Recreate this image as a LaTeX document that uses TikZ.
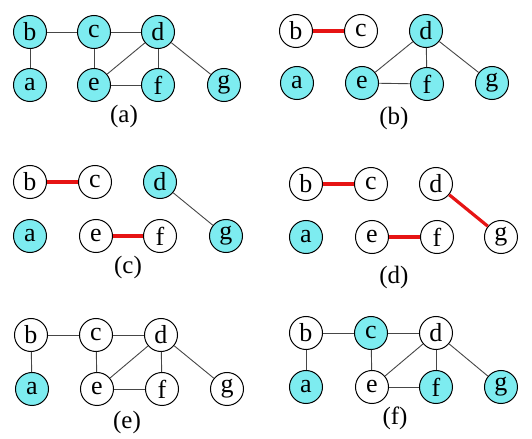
\documentclass[tikz,border=0pt]{standalone}
\usepackage{fontspec}
\setmainfont{Liberation Serif}
\usepackage{tikz}
\definecolor{vcyan}{RGB}{125,236,240}
\definecolor{edgegray}{RGB}{70,70,70}
\definecolor{matchred}{RGB}{230,20,20}

\begin{document}
\begin{tikzpicture}
          [x=0.5pt,y=-0.5pt,
           every node/.style={circle,draw=black,line width=0.5pt,minimum size=16.5pt,inner sep=0pt,font=\fontsize{13}{15}\selectfont},
           cov/.style={fill=vcyan},
           panellabel/.style={draw=none,fill=none,rectangle,font=\fontsize{12.5}{15}\selectfont},
           plain/.style={draw=edgegray,line width=0.45pt},
           match/.style={draw=matchred,line width=1.6pt}]
          \useasboundingbox (0,0) rectangle (532,439);

          % (a)
          \node[cov] (b1) at (30,32) {b};
          \node[cov] (c1) at (94,32) {c};
          \node[cov] (d1) at (158,32) {d};
          \node[cov] (a1) at (30,85) {a};
          \node[cov] (e1) at (94,85) {e};
          \node[cov] (f1) at (158,85) {f};
          \node[cov] (g1) at (224,85) {g};
          \node[panellabel] (l1) at (124,116) {(a)};

          % (b)
          \node (b2) at (296,31) {b};
          \node (c2) at (361,31) {c};
          \node[cov] (d2) at (426,31) {d};
          \node[cov] (a2) at (297,83) {a};
          \node[cov] (e2) at (362,83) {e};
          \node[cov] (f2) at (427,84) {f};
          \node[cov] (g2) at (492,83) {g};
          \node[panellabel] (l2) at (394,118) {(b)};

          % (c)
          \node (b3) at (30,182) {b};
          \node (c3) at (95,182) {c};
          \node[cov] (d3) at (160,182) {d};
          \node[cov] (a3) at (30,236) {a};
          \node (e3) at (96,236) {e};
          \node (f3) at (160,236) {f};
          \node[cov] (g3) at (226,236) {g};
          \node[panellabel] (l3) at (128,267) {(c)};

          % (d)
          \node (b4) at (306,184) {b};
          \node (c4) at (371,184) {c};
          \node (d4) at (436,184) {d};
          \node[cov] (a4) at (306,237) {a};
          \node (e4) at (372,237) {e};
          \node (f4) at (437,237) {f};
          \node (g4) at (501,237) {g};
          \node[panellabel] (l4) at (394,277) {(d)};

          % (e)
          \node (b5) at (31,335) {b};
          \node (c5) at (96,335) {c};
          \node (d5) at (161,335) {d};
          \node[cov] (a5) at (32,389) {a};
          \node (e5) at (97,389) {e};
          \node (f5) at (162,389) {f};
          \node (g5) at (227,389) {g};
          \node[panellabel] (l5) at (127,422) {(e)};

          % (f)
          \node (b6) at (306,333) {b};
          \node[cov] (c6) at (371,333) {c};
          \node (d6) at (436,333) {d};
          \node[cov] (a6) at (306,387) {a};
          \node (e6) at (372,387) {e};
          \node[cov] (f6) at (436,387) {f};
          \node[cov] (g6) at (501,387) {g};
          \node[panellabel] (l6) at (395,418) {(f)};

          \foreach \i in {1,5,6}
            \foreach \from/\to in {a/b,b/c,c/d,c/e,d/e,d/f,e/f,d/g}
              \draw[plain] (\from\i) -- (\to\i);

          \foreach \from/\to in {d2/e2,d2/f2,e2/f2,d2/g2,d3/g3}
            \draw[plain] (\from) -- (\to);

          \foreach \from/\to in {b2/c2,b3/c3,e3/f3,b4/c4,e4/f4,d4/g4}
            \draw[match] (\from) -- (\to);

        \end{tikzpicture}
\end{document}
